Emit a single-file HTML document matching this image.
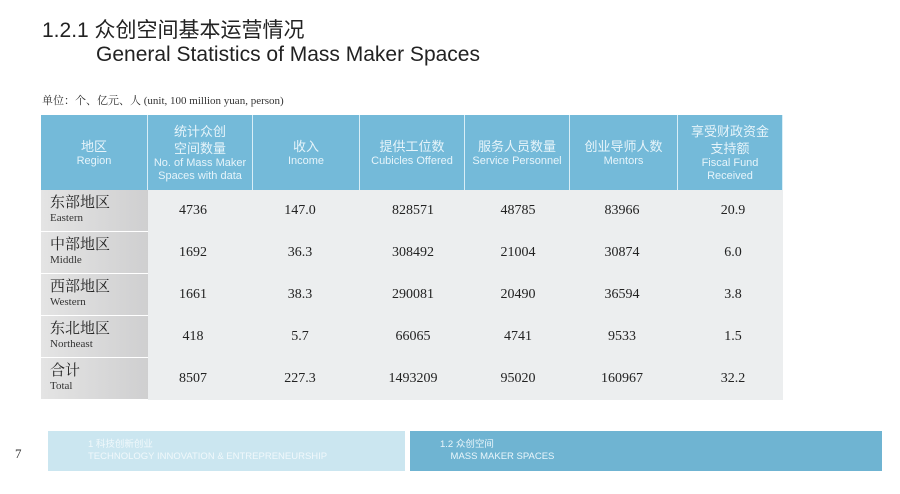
<!DOCTYPE html>
<html><head><meta charset="utf-8"><style>
body{margin:0;width:900px;height:494px;background:#fff;position:relative;overflow:hidden;font-family:"Liberation Sans","Noto Sans CJK SC",sans-serif}
.a{position:absolute}
.h{position:absolute;top:115px;height:75px;background:#74bad9;color:#e6f4fa;text-align:center;font-size:11px;line-height:13px;display:flex;flex-direction:column;justify-content:center;border-right:1px solid #d8eef7;box-sizing:border-box}
.h b{font-weight:normal;font-size:13px;line-height:17px}
.r{position:absolute;left:41px;width:107px;background:linear-gradient(90deg,#e4e4e4,#cfcfd0);font-family:"Liberation Serif","Noto Serif CJK SC",serif;box-sizing:border-box;padding-left:9px;border-bottom:1px solid #fff}
.r .c{font-size:15px;line-height:18px;margin-top:4px;color:#222}
.r .e{font-size:11px;color:#333}
.d{position:absolute;left:148px;width:635px;background:#eceeef;border-bottom:1px solid #fff}
.v{position:absolute;font-family:"Liberation Serif",serif;font-size:14px;color:#222;text-align:center;width:100px}
</style></head><body>
<div class="a" style="left:42px;top:14px;font-size:21px;color:#222">1.2.1 众创空间基本运营情况</div>
<div class="a" style="left:96px;top:43px;font-size:21px;color:#222">General Statistics of Mass Maker Spaces</div>
<div class="a" style="left:42px;top:92px;font-size:11px;color:#333;font-family:'Liberation Serif','Noto Serif CJK SC',serif">单位：个、亿元、人 (unit, 100 million yuan, person)</div>
<div id="tbl"></div>
<div class="a" style="left:15px;top:446px;font-size:13px;color:#333;font-family:'Liberation Serif',serif">7</div>
<div class="a" style="left:48px;top:431px;width:357px;height:40px;background:#cbe6f0"></div>
<div class="a" style="left:410px;top:431px;width:472px;height:40px;background:#6fb4d2"></div>
<div class="a" style="left:88px;top:439px;font-size:9.5px;line-height:12px;color:#f0f8fb">1 科技创新创业<br>TECHNOLOGY INNOVATION &amp; ENTREPRENEURSHIP</div>
<div class="a" style="left:440px;top:439px;font-size:9.5px;line-height:12px;color:#eaf6fb">1.2 众创空间<br>&nbsp;&nbsp;&nbsp;&nbsp;MASS MAKER SPACES</div>
<script>
const headersCn=["地区","统计众创<br>空间数量","收入","提供工位数","服务人员数量","创业导师人数","享受财政资金<br>支持额"];
const headersEn=["Region","No. of Mass Maker<br>Spaces with data","Income","Cubicles Offered","Service Personnel","Mentors","Fiscal Fund<br>Received"];
const regionsCn=["东部地区","中部地区","西部地区","东北地区","合计"];
const regionsEn=["Eastern","Middle","Western","Northeast","Total"];
const spaces=["4736","1692","1661","418","8507"];
const income=["147.0","36.3","38.3","5.7","227.3"];
const cubicles=["828571","308492","290081","66065","1493209"];
const personnel=["48785","21004","20490","4741","95020"];
const mentors=["83966","30874","36594","9533","160967"];
const fiscal=["20.9","6.0","3.8","1.5","32.2"];
const colX=[41,148,253,360,465,570,678,783];
const valCx=[193,300,413,518,622,733];
const t=document.getElementById('tbl');
for(let i=0;i<7;i++){const h=document.createElement('div');h.className='h';


h.style.left=colX[i]+'px';h.style.width=(colX[i+1]-colX[i])+'px';
h.innerHTML='<b>'+headersCn[i]+'</b>'+headersEn[i];t.appendChild(h);}
const cols=[spaces,income,cubicles,personnel,mentors,fiscal];
for(let r=0;r<5;r++){const top=190+r*42;
const d=document.createElement('div');d.className='d';


d.style.top=top+'px';d.style.height='42px';t.appendChild(d);
const c=document.createElement('div');c.className='r';


c.style.top=top+'px';c.style.height='42px';
c.innerHTML='<div class="c">'+regionsCn[r]+'</div><div class="e">'+regionsEn[r]+'</div>';t.appendChild(c);
for(let k=0;k<6;k++){const v=document.createElement('div');v.className='v';


v.style.left=(valCx[k]-50)+'px';v.style.top=(top+13)+'px';v.textContent=cols[k][r];t.appendChild(v);}}
</script>
</body></html>
